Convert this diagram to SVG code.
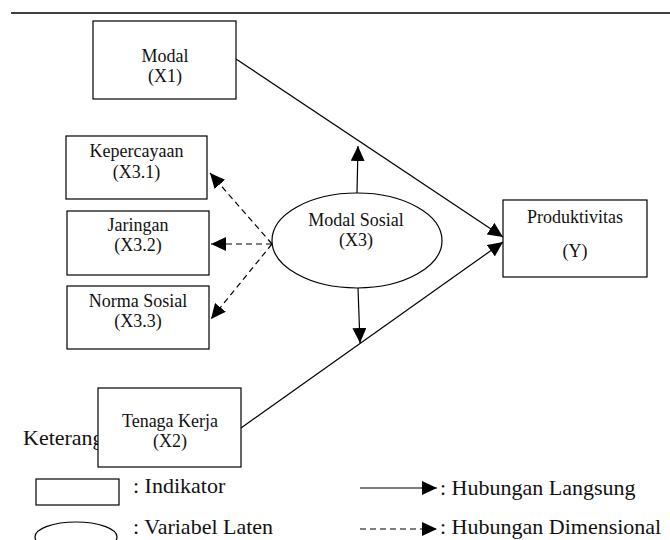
<svg xmlns="http://www.w3.org/2000/svg" width="670" height="540" viewBox="0 0 670 540">
<style>
.box{fill:#fff;stroke:#000;stroke-width:1.2}
.t{font-family:"Liberation Serif","Times New Roman",serif;font-size:18px;fill:#111;text-anchor:middle}
.lg{font-family:"Liberation Serif","Times New Roman",serif;font-size:22px;fill:#111}
.ln{stroke:#000;stroke-width:1.2;fill:none}
.dash{stroke:#000;stroke-width:1.2;fill:none;stroke-dasharray:6 4}
</style>
<defs>
<marker id="ah" markerUnits="userSpaceOnUse" markerWidth="15" markerHeight="14" refX="15" refY="7" orient="auto">
<path d="M0,0 L15,7 L0,14 z" fill="#000"/>
</marker>
</defs>
<rect width="670" height="540" fill="#fff"/>
<line x1="11" y1="13" x2="670" y2="13" stroke="#000" stroke-width="1.6"/>
<text class="lg" x="23" y="445">Keterangan</text>

<g id="connectors">
<line class="ln" x1="236" y1="59" x2="503" y2="237" marker-end="url(#ah)"/>
<line class="ln" x1="241" y1="428" x2="503" y2="242" marker-end="url(#ah)"/>
<line class="ln" x1="357" y1="193" x2="358" y2="146" marker-end="url(#ah)"/>
<line class="ln" x1="358" y1="288" x2="360" y2="343" marker-end="url(#ah)"/>
<line class="dash" x1="272" y1="244" x2="210" y2="173" marker-end="url(#ah)"/>
<line class="dash" x1="272" y1="244" x2="211" y2="244" marker-end="url(#ah)"/>
<line class="dash" x1="272" y1="244" x2="211" y2="319" marker-end="url(#ah)"/>
</g>

<g id="modal">
<rect class="box" x="93" y="21" width="143" height="78"/>
<text class="t" x="165" y="62">Modal</text>
<text class="t" x="165" y="82">(X1)</text>
</g>
<g id="kepercayaan">
<rect class="box" x="66" y="136" width="141" height="63"/>
<text class="t" x="136.5" y="157">Kepercayaan</text>
<text class="t" x="136.5" y="178">(X3.1)</text>
</g>
<g id="jaringan">
<rect class="box" x="67" y="211" width="142" height="64"/>
<text class="t" x="138" y="231">Jaringan</text>
<text class="t" x="138" y="251">(X3.2)</text>
</g>
<g id="norma">
<rect class="box" x="67" y="286" width="142" height="63"/>
<text class="t" x="138" y="307">Norma Sosial</text>
<text class="t" x="138" y="327">(X3.3)</text>
</g>
<g id="modal-sosial">
<ellipse class="box" cx="357" cy="240.5" rx="85" ry="47.5"/>
<text class="t" x="356" y="226">Modal Sosial</text>
<text class="t" x="356" y="246">(X3)</text>
</g>
<g id="produktivitas">
<rect class="box" x="503" y="200" width="144" height="77"/>
<text class="t" x="575" y="223">Produktivitas</text>
<text class="t" x="575" y="257">(Y)</text>
</g>
<g id="tenaga-kerja">
<rect class="box" x="98" y="388" width="143" height="79"/>
<text class="t" x="170" y="427">Tenaga Kerja</text>
<text class="t" x="170" y="447">(X2)</text>
</g>

<g id="legend">
<rect class="box" x="36" y="479" width="83" height="26"/>
<text class="lg" x="133" y="493">: Indikator</text>
<ellipse class="box" cx="76" cy="537" rx="41" ry="15"/>
<text class="lg" x="133" y="534">: Variabel Laten</text>
<line class="ln" x1="360" y1="488" x2="437" y2="488" marker-end="url(#ah)"/>
<text class="lg" x="440" y="495">: Hubungan Langsung</text>
<line class="dash" x1="360" y1="529" x2="437" y2="529" marker-end="url(#ah)"/>
<text class="lg" x="440" y="534">: Hubungan Dimensional</text>
</g>
</svg>
